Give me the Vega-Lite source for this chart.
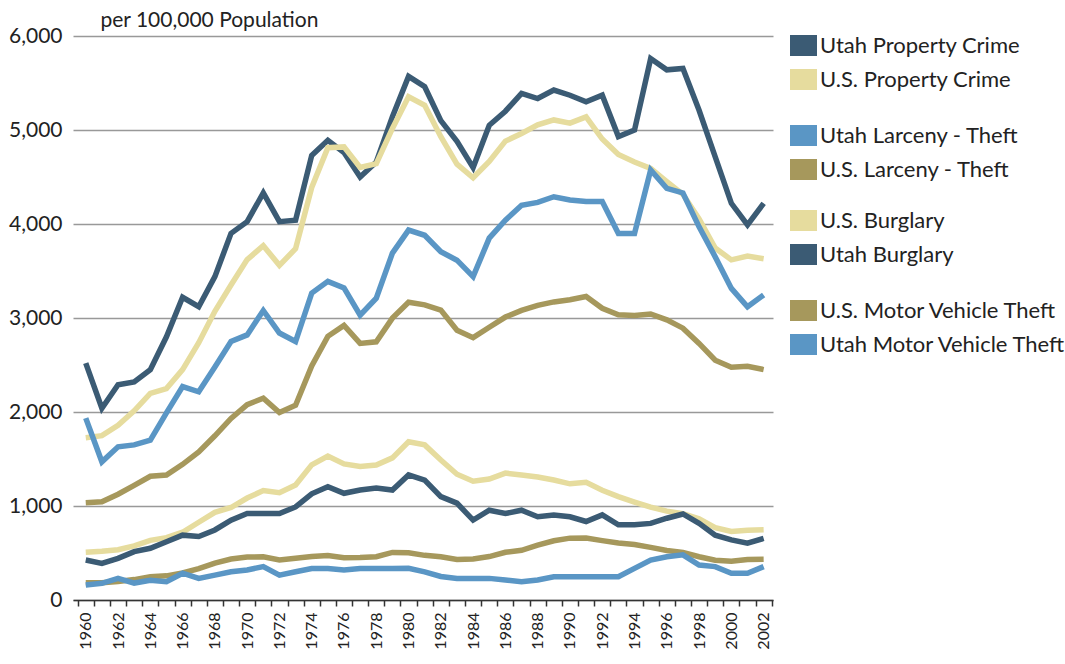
{
  "$schema": "https://vega.github.io/schema/vega-lite/v6.json",
  "width": 700,
  "height": 564,
  "autosize": "none",
  "padding": {"left": 73, "top": 36, "right": 292, "bottom": 64},
  "background": "white",
  "config": {
    "font": "Lato",
    "view": {"stroke": null},
    "legend": {
      "orient": "none",
      "symbolType": "M-1,-0.78H1V0.78H-1Z",
      "symbolSize": 729,
      "symbolStrokeWidth": 0,
      "symbolOpacity": 1,
      "labelFontSize": 22,
      "labelColor": "#222",
      "labelFont": "Lato",
      "rowPadding": 9,
      "padding": 0,
      "labelOffset": 3,
      "labelLimit": 300
    }
  },
  "data": {
    "values": [
      {"year": 1960, "utah_property": 2520, "us_property": 1726, "utah_larceny": 1935, "us_larceny": 1035, "us_burglary": 509, "utah_burglary": 425, "us_mvt": 183, "utah_mvt": 160},
      {"year": 1961, "utah_property": 2040, "us_property": 1748, "utah_larceny": 1470, "us_larceny": 1045, "us_burglary": 519, "utah_burglary": 390, "us_mvt": 184, "utah_mvt": 178},
      {"year": 1962, "utah_property": 2290, "us_property": 1858, "utah_larceny": 1630, "us_larceny": 1125, "us_burglary": 535, "utah_burglary": 443, "us_mvt": 197, "utah_mvt": 230},
      {"year": 1963, "utah_property": 2320, "us_property": 2012, "utah_larceny": 1650, "us_larceny": 1219, "us_burglary": 576, "utah_burglary": 515, "us_mvt": 217, "utah_mvt": 180},
      {"year": 1964, "utah_property": 2450, "us_property": 2198, "utah_larceny": 1700, "us_larceny": 1316, "us_burglary": 635, "utah_burglary": 550, "us_mvt": 247, "utah_mvt": 210},
      {"year": 1965, "utah_property": 2800, "us_property": 2249, "utah_larceny": 1990, "us_larceny": 1329, "us_burglary": 663, "utah_burglary": 620, "us_mvt": 257, "utah_mvt": 195},
      {"year": 1966, "utah_property": 3220, "us_property": 2451, "utah_larceny": 2270, "us_larceny": 1443, "us_burglary": 721, "utah_burglary": 690, "us_mvt": 287, "utah_mvt": 285},
      {"year": 1967, "utah_property": 3120, "us_property": 2737, "utah_larceny": 2215, "us_larceny": 1576, "us_burglary": 827, "utah_burglary": 675, "us_mvt": 334, "utah_mvt": 230},
      {"year": 1968, "utah_property": 3440, "us_property": 3072, "utah_larceny": 2480, "us_larceny": 1747, "us_burglary": 932, "utah_burglary": 745, "us_mvt": 393, "utah_mvt": 265},
      {"year": 1969, "utah_property": 3900, "us_property": 3351, "utah_larceny": 2750, "us_larceny": 1931, "us_burglary": 984, "utah_burglary": 850, "us_mvt": 436, "utah_mvt": 300},
      {"year": 1970, "utah_property": 4025, "us_property": 3621, "utah_larceny": 2820, "us_larceny": 2079, "us_burglary": 1085, "utah_burglary": 920, "us_mvt": 457, "utah_mvt": 320},
      {"year": 1971, "utah_property": 4330, "us_property": 3769, "utah_larceny": 3080, "us_larceny": 2146, "us_burglary": 1164, "utah_burglary": 920, "us_mvt": 460, "utah_mvt": 355},
      {"year": 1972, "utah_property": 4025, "us_property": 3560, "utah_larceny": 2840, "us_larceny": 1994, "us_burglary": 1141, "utah_burglary": 920, "us_mvt": 426, "utah_mvt": 265},
      {"year": 1973, "utah_property": 4040, "us_property": 3737, "utah_larceny": 2750, "us_larceny": 2072, "us_burglary": 1223, "utah_burglary": 990, "us_mvt": 443, "utah_mvt": 300},
      {"year": 1974, "utah_property": 4730, "us_property": 4389, "utah_larceny": 3265, "us_larceny": 2490, "us_burglary": 1438, "utah_burglary": 1130, "us_mvt": 462, "utah_mvt": 335},
      {"year": 1975, "utah_property": 4890, "us_property": 4811, "utah_larceny": 3390, "us_larceny": 2805, "us_burglary": 1532, "utah_burglary": 1205, "us_mvt": 474, "utah_mvt": 335},
      {"year": 1976, "utah_property": 4760, "us_property": 4820, "utah_larceny": 3320, "us_larceny": 2921, "us_burglary": 1448, "utah_burglary": 1135, "us_mvt": 450, "utah_mvt": 320},
      {"year": 1977, "utah_property": 4500, "us_property": 4602, "utah_larceny": 3030, "us_larceny": 2730, "us_burglary": 1420, "utah_burglary": 1170, "us_mvt": 452, "utah_mvt": 335},
      {"year": 1978, "utah_property": 4660, "us_property": 4643, "utah_larceny": 3210, "us_larceny": 2747, "us_burglary": 1435, "utah_burglary": 1190, "us_mvt": 461, "utah_mvt": 335},
      {"year": 1979, "utah_property": 5140, "us_property": 5017, "utah_larceny": 3690, "us_larceny": 2999, "us_burglary": 1512, "utah_burglary": 1170, "us_mvt": 506, "utah_mvt": 335},
      {"year": 1980, "utah_property": 5570, "us_property": 5353, "utah_larceny": 3935, "us_larceny": 3167, "us_burglary": 1684, "utah_burglary": 1330, "us_mvt": 502, "utah_mvt": 337},
      {"year": 1981, "utah_property": 5460, "us_property": 5264, "utah_larceny": 3880, "us_larceny": 3140, "us_burglary": 1650, "utah_burglary": 1275, "us_mvt": 475, "utah_mvt": 300},
      {"year": 1982, "utah_property": 5100, "us_property": 4928, "utah_larceny": 3705, "us_larceny": 3085, "us_burglary": 1489, "utah_burglary": 1100, "us_mvt": 459, "utah_mvt": 250},
      {"year": 1983, "utah_property": 4880, "us_property": 4637, "utah_larceny": 3615, "us_larceny": 2869, "us_burglary": 1338, "utah_burglary": 1030, "us_mvt": 431, "utah_mvt": 230},
      {"year": 1984, "utah_property": 4600, "us_property": 4492, "utah_larceny": 3440, "us_larceny": 2791, "us_burglary": 1264, "utah_burglary": 850, "us_mvt": 437, "utah_mvt": 230},
      {"year": 1985, "utah_property": 5050, "us_property": 4666, "utah_larceny": 3850, "us_larceny": 2901, "us_burglary": 1287, "utah_burglary": 955, "us_mvt": 462, "utah_mvt": 230},
      {"year": 1986, "utah_property": 5200, "us_property": 4882, "utah_larceny": 4040, "us_larceny": 3010, "us_burglary": 1350, "utah_burglary": 920, "us_mvt": 508, "utah_mvt": 213},
      {"year": 1987, "utah_property": 5390, "us_property": 4963, "utah_larceny": 4200, "us_larceny": 3081, "us_burglary": 1330, "utah_burglary": 955, "us_mvt": 529, "utah_mvt": 195},
      {"year": 1988, "utah_property": 5335, "us_property": 5054, "utah_larceny": 4230, "us_larceny": 3135, "us_burglary": 1309, "utah_burglary": 885, "us_mvt": 583, "utah_mvt": 213},
      {"year": 1989, "utah_property": 5425, "us_property": 5107, "utah_larceny": 4290, "us_larceny": 3171, "us_burglary": 1276, "utah_burglary": 905, "us_mvt": 630, "utah_mvt": 248},
      {"year": 1990, "utah_property": 5370, "us_property": 5073, "utah_larceny": 4255, "us_larceny": 3195, "us_burglary": 1236, "utah_burglary": 885, "us_mvt": 658, "utah_mvt": 248},
      {"year": 1991, "utah_property": 5300, "us_property": 5140, "utah_larceny": 4240, "us_larceny": 3229, "us_burglary": 1252, "utah_burglary": 835, "us_mvt": 659, "utah_mvt": 248},
      {"year": 1992, "utah_property": 5370, "us_property": 4904, "utah_larceny": 4240, "us_larceny": 3104, "us_burglary": 1168, "utah_burglary": 905, "us_mvt": 632, "utah_mvt": 248},
      {"year": 1993, "utah_property": 4930, "us_property": 4740, "utah_larceny": 3900, "us_larceny": 3034, "us_burglary": 1100, "utah_burglary": 800, "us_mvt": 606, "utah_mvt": 248},
      {"year": 1994, "utah_property": 5000, "us_property": 4660, "utah_larceny": 3900, "us_larceny": 3027, "us_burglary": 1042, "utah_burglary": 800, "us_mvt": 591, "utah_mvt": 337},
      {"year": 1995, "utah_property": 5760, "us_property": 4591, "utah_larceny": 4575, "us_larceny": 3043, "us_burglary": 987, "utah_burglary": 815, "us_mvt": 560, "utah_mvt": 425},
      {"year": 1996, "utah_property": 5640, "us_property": 4451, "utah_larceny": 4380, "us_larceny": 2980, "us_burglary": 945, "utah_burglary": 870, "us_mvt": 526, "utah_mvt": 460},
      {"year": 1997, "utah_property": 5655, "us_property": 4316, "utah_larceny": 4330, "us_larceny": 2892, "us_burglary": 919, "utah_burglary": 915, "us_mvt": 506, "utah_mvt": 480},
      {"year": 1998, "utah_property": 5210, "us_property": 4053, "utah_larceny": 3970, "us_larceny": 2730, "us_burglary": 863, "utah_burglary": 815, "us_mvt": 460, "utah_mvt": 372},
      {"year": 1999, "utah_property": 4715, "us_property": 3744, "utah_larceny": 3650, "us_larceny": 2551, "us_burglary": 770, "utah_burglary": 690, "us_mvt": 423, "utah_mvt": 355},
      {"year": 2000, "utah_property": 4220, "us_property": 3618, "utah_larceny": 3315, "us_larceny": 2477, "us_burglary": 729, "utah_burglary": 640, "us_mvt": 412, "utah_mvt": 284},
      {"year": 2001, "utah_property": 3990, "us_property": 3658, "utah_larceny": 3120, "us_larceny": 2486, "us_burglary": 742, "utah_burglary": 605, "us_mvt": 431, "utah_mvt": 284},
      {"year": 2002, "utah_property": 4220, "us_property": 3631, "utah_larceny": 3245, "us_larceny": 2451, "us_burglary": 747, "utah_burglary": 655, "us_mvt": 433, "utah_mvt": 355}
    ]
  },
  "encoding": {
    "x": {
      "field": "year",
      "type": "quantitative",
      "scale": {"domain": [1959.21, 2002.58], "nice": false, "zero": false},
      "axis": {
        "title": null,
        "values": [1959.5, 1960.5, 1961.5, 1962.5, 1963.5, 1964.5, 1965.5, 1966.5, 1967.5, 1968.5, 1969.5, 1970.5, 1971.5, 1972.5, 1973.5, 1974.5, 1975.5, 1976.5, 1977.5, 1978.5, 1979.5, 1980.5, 1981.5, 1982.5, 1983.5, 1984.5, 1985.5, 1986.5, 1987.5, 1988.5, 1989.5, 1990.5, 1991.5, 1992.5, 1993.5, 1994.5, 1995.5, 1996.5, 1997.5, 1998.5, 1999.5, 2000.5, 2001.5, 2002.5],
        "labelExpr": "(datum.value + 0.5) % 2 == 0 ? '' + (datum.value + 0.5) : ''",
        "labelOffset": 8.07,
        "labelAngle": 270,
        "labelFontSize": 16,
        "labelColor": "#222",
        "labelPadding": 6,
        "labelOverlap": false,
        "labelFlush": false,
        "labelBound": false,
        "tickSize": 6,
        "tickColor": "#333",
        "tickWidth": 1.5,
        "domainColor": "#333",
        "domainWidth": 1.5,
        "grid": false
      }
    },
    "y": {
      "field": "value",
      "type": "quantitative",
      "scale": {"domain": [0, 6000], "nice": false},
      "axis": {
        "title": "per 100,000 Population",
        "titleAngle": 0,
        "titleAlign": "left",
        "titleBaseline": "alphabetic",
        "titleX": 27,
        "titleY": -10,
        "titleFontSize": 21,
        "titleFontWeight": "normal",
        "titleColor": "#222",
        "values": [0, 1000, 2000, 3000, 4000, 5000, 6000],
        "format": ",d",
        "labelFontSize": 21,
        "labelColor": "#222",
        "labelPadding": 11,
        "domain": false,
        "ticks": false,
        "grid": true,
        "gridColor": "#999",
        "gridWidth": 1.5
      }
    }
  },
  "layer": [
    {
      "transform": [{"fold": ["utah_property", "us_property"], "as": ["series", "value"]}],
      "mark": {"type": "line", "strokeWidth": 5.5},
      "encoding": {
        "color": {
          "field": "series", "type": "nominal",
          "scale": {"domain": ["utah_property", "us_property"], "range": ["#3b5b74", "#e6dc9e"]},
          "legend": {"title": null, "legendX": 717, "legendY": -4,
            "labelExpr": "datum.value == 'utah_property' ? 'Utah Property Crime' : 'U.S. Property Crime'",
            "encode": {"symbols": {"update": {"fill": {"scale": "layer_0_color", "field": "value"}}}}}
        }
      }
    },
    {
      "transform": [{"fold": ["utah_larceny", "us_larceny"], "as": ["series", "value"]}],
      "mark": {"type": "line", "strokeWidth": 5.5},
      "encoding": {
        "color": {
          "field": "series", "type": "nominal",
          "scale": {"domain": ["utah_larceny", "us_larceny"], "range": ["#5a96c5", "#a6985c"]},
          "legend": {"title": null, "legendX": 717, "legendY": 86,
            "labelExpr": "datum.value == 'utah_larceny' ? 'Utah Larceny - Theft' : 'U.S. Larceny - Theft'",
            "encode": {"symbols": {"update": {"fill": {"scale": "layer_1_color", "field": "value"}}}}}
        }
      }
    },
    {
      "transform": [{"fold": ["us_burglary", "utah_burglary"], "as": ["series", "value"]}],
      "mark": {"type": "line", "strokeWidth": 5.5},
      "encoding": {
        "color": {
          "field": "series", "type": "nominal",
          "scale": {"domain": ["us_burglary", "utah_burglary"], "range": ["#e6dc9e", "#3b5b74"]},
          "legend": {"title": null, "legendX": 717, "legendY": 171,
            "labelExpr": "datum.value == 'us_burglary' ? 'U.S. Burglary' : 'Utah Burglary'",
            "encode": {"symbols": {"update": {"fill": {"scale": "layer_2_color", "field": "value"}}}}}
        }
      }
    },
    {
      "transform": [{"fold": ["us_mvt", "utah_mvt"], "as": ["series", "value"]}],
      "mark": {"type": "line", "strokeWidth": 5.5},
      "encoding": {
        "color": {
          "field": "series", "type": "nominal",
          "scale": {"domain": ["us_mvt", "utah_mvt"], "range": ["#a6985c", "#5a96c5"]},
          "legend": {"title": null, "legendX": 717, "legendY": 261,
            "labelExpr": "datum.value == 'us_mvt' ? 'U.S. Motor Vehicle Theft' : 'Utah Motor Vehicle Theft'",
            "encode": {"symbols": {"update": {"fill": {"scale": "layer_3_color", "field": "value"}}}}}
        }
      }
    }
  ],
  "resolve": {"scale": {"color": "independent"}}
}
